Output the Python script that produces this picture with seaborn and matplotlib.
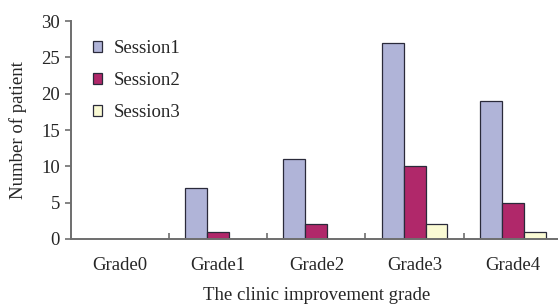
import pandas as pd
import matplotlib
matplotlib.use('Agg')
import matplotlib.pyplot as plt
import seaborn as sns

# Data
grades = ['Grade0', 'Grade1', 'Grade2', 'Grade3', 'Grade4']
sessions = ['Session1', 'Session2', 'Session3']
session1 = [0, 7, 11, 27, 19]
session2 = [0, 1, 2, 10, 5]
session3 = [0, 0, 0, 2, 1]
colors = ['#B0B4D8', '#B0286A', '#FAFAD4']

rows = []
for s, vals in zip(sessions, [session1, session2, session3]):
    for g, v in zip(grades, vals):
        rows.append({'grade': g, 'session': s, 'count': v})
df = pd.DataFrame(rows)

sns.set_style('white')
plt.rcParams['font.family'] = ['Liberation Serif', 'DejaVu Serif']
plt.rcParams['font.size'] = 13.5

fig = plt.figure(figsize=(5.58, 3.06), dpi=100)
ax = fig.add_axes([0.127, 0.219, 0.880, 0.712])

sns.barplot(data=df, x='grade', y='count', hue='session', order=grades,
            hue_order=sessions, palette=colors, saturation=1, width=0.67,
            edgecolor='#2a2a3a', linewidth=0.9, ax=ax)

ax.set_xlim(-0.5, 4.5)
ax.set_ylim(0, 30)
ax.set_yticks(range(0, 31, 5))
ax.set_xticks(range(len(grades)))
ax.set_xticklabels(grades)
ax.set_xticks([0.5, 1.5, 2.5, 3.5], minor=True)

for side in ['top', 'right']:
    ax.spines[side].set_visible(False)
for side in ['left', 'bottom']:
    ax.spines[side].set_color('#6e6e6e')
    ax.spines[side].set_linewidth(1.4)

ax.tick_params(axis='y', direction='out', length=4, width=1.2, color='#6e6e6e',
               left=True, labelsize=13.5, pad=4)
ax.tick_params(axis='x', which='major', length=0, labelsize=13.5, pad=13)
ax.tick_params(axis='x', which='minor', direction='in', length=4, width=1.2,
               color='#6e6e6e', bottom=True)

ax.set_xlabel('The clinic improvement grade', fontsize=13.5, labelpad=9)
ax.set_ylabel('Number of patient', fontsize=13.5, labelpad=10)

handles, labels = ax.get_legend_handles_labels()
ax.legend(handles, labels, loc='upper left', bbox_to_anchor=(0.01, 0.99),
          frameon=False, handlelength=0.5, handleheight=0.5,
          handletextpad=0.6, labelspacing=0.8, fontsize=13.5)

fig.savefig('out.png', dpi=100)
